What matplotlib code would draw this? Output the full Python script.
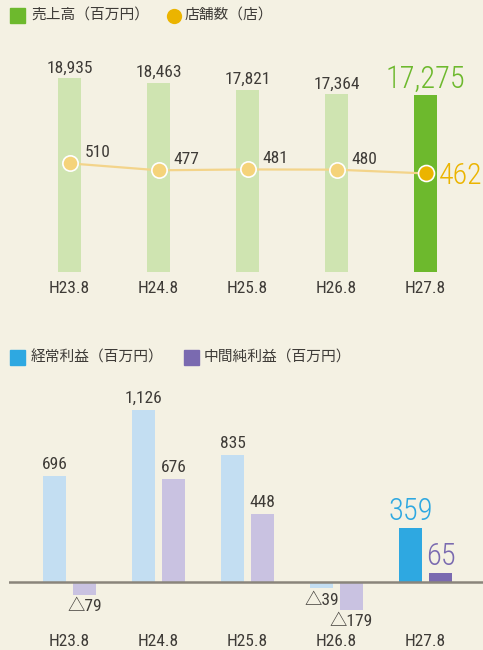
import matplotlib
matplotlib.use('Agg')
import matplotlib.pyplot as plt
from matplotlib.patches import Rectangle
import numpy as np

# ---- data ----
periods = ['H23.8', 'H24.8', 'H25.8', 'H26.8', 'H27.8']
sales = [18935, 18463, 17821, 17364, 17275]            # 売上高（百万円）
stores = [510, 477, 481, 480, 462]                     # 店舗数（店）
ordinary_profit = [696, 1126, 835, -39, 359]           # 経常利益（百万円）
interim_net_profit = [-79, 676, 448, -179, 65]         # 中間純利益（百万円）

# ---- style ----
BG = '#f4f1e3'
TXT = '#3e3b37'
G_LIGHT, G_DARK = '#cfe4b1', '#6db92d'
M_LIGHT, M_DARK = '#f5d37a', '#ebb400'
LINE_C = '#f3d48a'
B_LIGHT, B_DARK = '#c3def2', '#2ea8e1'
P_LIGHT, P_DARK = '#c9c2e1', '#7a6ab0'
AX_LINE = '#8a857b'
NUM = ['Roboto Condensed', 'Noto Sans CJK JP', 'DejaVu Sans']
CJK = ['Noto Sans CJK JP', 'DejaVu Sans']
NW = 'normal'   # small numbers
BW = 'light'    # big highlighted numbers

W, H = 483, 650
fig = plt.figure(figsize=(W / 100, H / 100), dpi=100, facecolor=BG)


def px(x0, y0, x1, y1):
    return [x0 / W, 1 - y1 / H, (x1 - x0) / W, (y1 - y0) / H]


x = np.arange(len(periods))
XLIM = (-0.68, 4.646)
n = len(periods)

# ---------------- top panel ----------------
ax1 = fig.add_axes(px(9, 30, 483, 271.5))
ax1.set_facecolor('none')
ax1.set_xlim(*XLIM)
ax1.set_ylim(0, 23680)
cols = [G_LIGHT] * (n - 1) + [G_DARK]
ax1.bar(x, sales, width=0.258, color=cols, zorder=2)
for i, v in enumerate(sales):
    last = i == n - 1
    ax1.annotate(f'{v:,}', (x[i], v), xytext=(0, 5.5 if last else 4.3),
                 textcoords='offset points', ha='center', va='baseline',
                 fontsize=22 if last else 12.5, color=G_DARK if last else TXT,
                 family=NUM, weight=BW if last else NW)
ax1.set_xticks(x)
ax1.set_xticklabels(periods, fontsize=12.5, color=TXT, family=NUM, weight=NW)
ax1.tick_params(axis='x', length=0, pad=7)
ax1.set_yticks([])
for s in ax1.spines.values():
    s.set_visible(False)

ax1b = ax1.twinx()
ax1b.set_xlim(*XLIM)
ax1b.set_ylim(-5, 1145)
ax1b.plot(x, stores, color=LINE_C, lw=1.6, zorder=3)
for i, v in enumerate(stores):
    last = i == n - 1
    ax1b.plot(x[i], v, 'o', ms=11.5 if last else 11,
              mfc=M_DARK if last else M_LIGHT, mec='white', mew=1.2, zorder=4)
    if last:
        ax1b.annotate(f'{v}', (x[i], v), xytext=(9.5, -7.7), textcoords='offset points',
                      ha='left', va='baseline', fontsize=21.5, color=M_DARK,
                      family=NUM, weight=BW)
    else:
        ax1b.annotate(f'{v}', (x[i], v), xytext=(11, 4.3), textcoords='offset points',
                      ha='left', va='baseline', fontsize=12.5, color=TXT,
                      family=NUM, weight=NW)
ax1b.set_yticks([])
for s in ax1b.spines.values():
    s.set_visible(False)

# ---------------- bottom panel ----------------
ax2 = fig.add_axes(px(9, 380, 483, 630))
ax2.set_facecolor('none')
ax2.set_xlim(*XLIM)
ax2.set_ylim(-311, 1325)
bw, off = 0.258, 0.169
bcols = [B_LIGHT] * (n - 1) + [B_DARK]
pcols = [P_LIGHT] * (n - 1) + [P_DARK]
ax2.bar(x - off, ordinary_profit, width=bw, color=bcols, zorder=2)
ax2.bar(x + off, interim_net_profit, width=bw, color=pcols, zorder=2)
ax2.axhline(0, color=AX_LINE, lw=1.8, zorder=3)


def lab(xi, v, last, dark):
    if v >= 0:
        ax2.annotate(f'{v:,}', (xi, v), xytext=(0, 5.2), textcoords='offset points',
                     ha='center', va='baseline', fontsize=22 if last else 12.5,
                     color=dark if last else TXT, family=NUM,
                     weight=BW if last else NW)
    else:
        ax2.annotate(f'△{abs(v)}', (xi, v), xytext=(0, -3), textcoords='offset points',
                     ha='center', va='top', fontsize=12.5, color=TXT,
                     family=NUM, weight=NW)


for i in range(n):
    last = i == n - 1
    lab(x[i] - off, ordinary_profit[i], last, B_DARK)
    lab(x[i] + off, interim_net_profit[i], last, P_DARK)

ax2.set_xticks(x)
ax2.set_xticklabels(periods, fontsize=12.5, color=TXT, family=NUM, weight=NW)
ax2.tick_params(axis='x', length=0, pad=3)
ax2.set_yticks([])
for s in ax2.spines.values():
    s.set_visible(False)

# ---------------- legends (pixel overlay) ----------------
ov = fig.add_axes([0, 0, 1, 1])
ov.set_xlim(0, W)
ov.set_ylim(H, 0)
ov.axis('off')
ov.patch.set_alpha(0)

LFS = 10.6
ov.add_patch(Rectangle((10, 8), 15, 15, color=G_DARK))
ov.text(31.5, 15.5, '売上高（百万円）', fontsize=LFS, color=TXT, va='center', ha='left', family=CJK)
ov.plot(173.5, 15.5, 'o', ms=11, mfc=M_DARK, mec='none')
ov.text(185, 15.5, '店舗数（店）', fontsize=LFS, color=TXT, va='center', ha='left', family=CJK)

ov.add_patch(Rectangle((10, 350), 15, 15, color=B_DARK))
ov.text(31, 357.5, '経常利益（百万円）', fontsize=LFS, color=TXT, va='center', ha='left', family=CJK)
ov.add_patch(Rectangle((183.5, 350), 15, 15, color=P_DARK))
ov.text(203.5, 357.5, '中間純利益（百万円）', fontsize=LFS, color=TXT, va='center', ha='left', family=CJK)

fig.savefig('out.png', dpi=100, facecolor=BG)
